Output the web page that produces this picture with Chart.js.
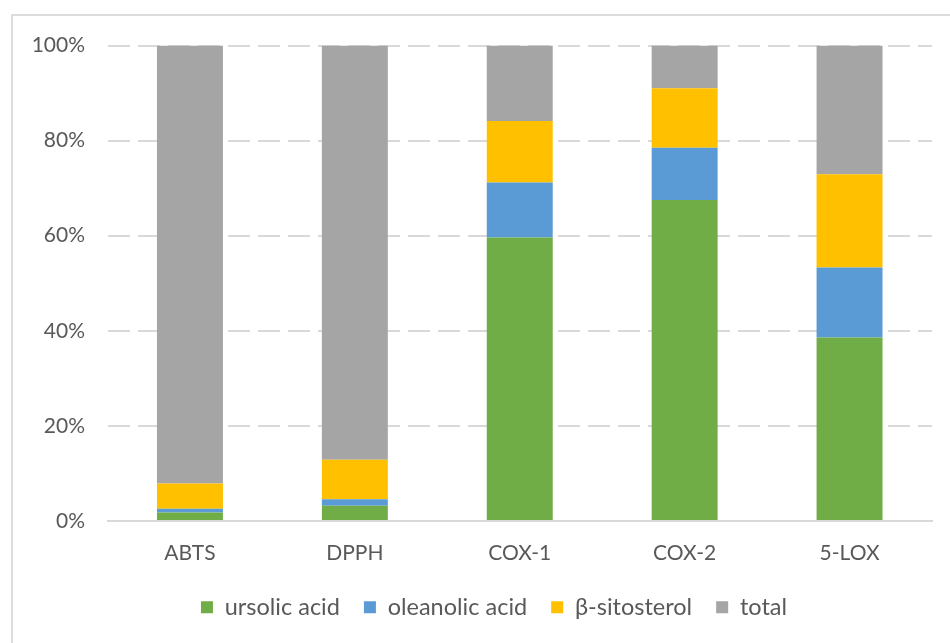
<!DOCTYPE html>
<html>
<head>
<meta charset="utf-8">
<script src="https://cdn.jsdelivr.net/npm/chart.js@4"></script>
<style>
  html, body { margin: 0; padding: 0; background: #fff; overflow: hidden; }
  #frame {
    position: absolute; left: 11px; top: 14px;
    width: 962px; height: 640px;
    border: 2px solid #dcdcdc;
  }
  canvas { display: block; }
</style>
</head>
<body>
<div id="frame"><canvas id="c" width="962" height="613"></canvas></div>
<script>
// Share of each compound (percent of the stacked column)
const categories = ['ABTS', 'DPPH', 'COX-1', 'COX-2', '5-LOX'];
const ursolicAcid   = [1.8, 3.2, 59.6, 67.5, 38.6];
const oleanolicAcid = [0.8, 1.4, 11.6, 11.0, 14.7];
const betaSitosterol = [5.3, 8.3, 12.9, 12.5, 19.6];
const total         = [92.1, 87.1, 15.9, 9.0, 27.1];
const yTicks = [0, 20, 40, 60, 80, 100];

const textColor = '#595959';
const gridColor = '#d9d9d9';
const family = 'Lato, "Liberation Sans", sans-serif';
const axisFont = { family: family, size: 21 };
const legendFont = { family: family, size: 23.5 };

const series = [
  { label: 'ursolic acid', data: ursolicAcid, backgroundColor: '#70AD47' },
  { label: 'oleanolic acid', data: oleanolicAcid, backgroundColor: '#5B9BD5' },
  { label: 'β-sitosterol', data: betaSitosterol, backgroundColor: '#FFC000' },
  { label: 'total', data: total, backgroundColor: '#A5A5A5' }
];

// The legend is centred on the whole frame, not only on the part left of the right margin
const legendShift = {
  id: 'legendShift',
  afterLayout(chart) {
    const lg = chart.legend;
    if (!lg) return;
    const dx = chart.width / 2 - (lg.left + lg.right) / 2;
    lg.left += dx;
    lg.right += dx;
  }
};

new Chart(document.getElementById('c'), {
  type: 'bar',
  data: {
    labels: categories,
    datasets: series.map(s => ({
      ...s,
      borderWidth: 0,
      categoryPercentage: 1,
      barPercentage: 0.4
    }))
  },
  plugins: [legendShift],
  options: {
    responsive: false,
    animation: false,
    layout: { padding: { top: 29.5, right: 43, left: 0, bottom: 0 } },
    plugins: {
      tooltip: { enabled: false },
      legend: {
        position: 'bottom',
        labels: {
          boxWidth: 12,
          boxHeight: 12,
          padding: 24,
          color: textColor,
          font: legendFont
        }
      }
    },
    scales: {
      x: {
        stacked: true,
        grid: { display: false },
        border: { display: true, color: gridColor, width: 2 },
        ticks: { color: textColor, font: axisFont, padding: 12 },
        afterFit: (scale) => { scale.height = 50.5; }
      },
      y: {
        stacked: true,
        min: 0,
        max: 100,
        afterBuildTicks: (scale) => { scale.ticks = yTicks.map(v => ({ value: v })); },
        grid: {
          drawTicks: false,
          color: (ctx) => (ctx.tick && ctx.tick.value === 0) ? 'rgba(0,0,0,0)' : gridColor,
          lineWidth: 2
        },
        border: { display: false, dash: [22, 8] },
        ticks: {
          color: textColor,
          font: axisFont,
          padding: 22.5,
          callback: (v) => v + '%'
        },
        afterFit: (scale) => {
          scale.width = 94.5;
          scale.paddingTop = 0;
          scale.paddingBottom = 0;
        }
      }
    }
  }
});
</script>
</body>
</html>
